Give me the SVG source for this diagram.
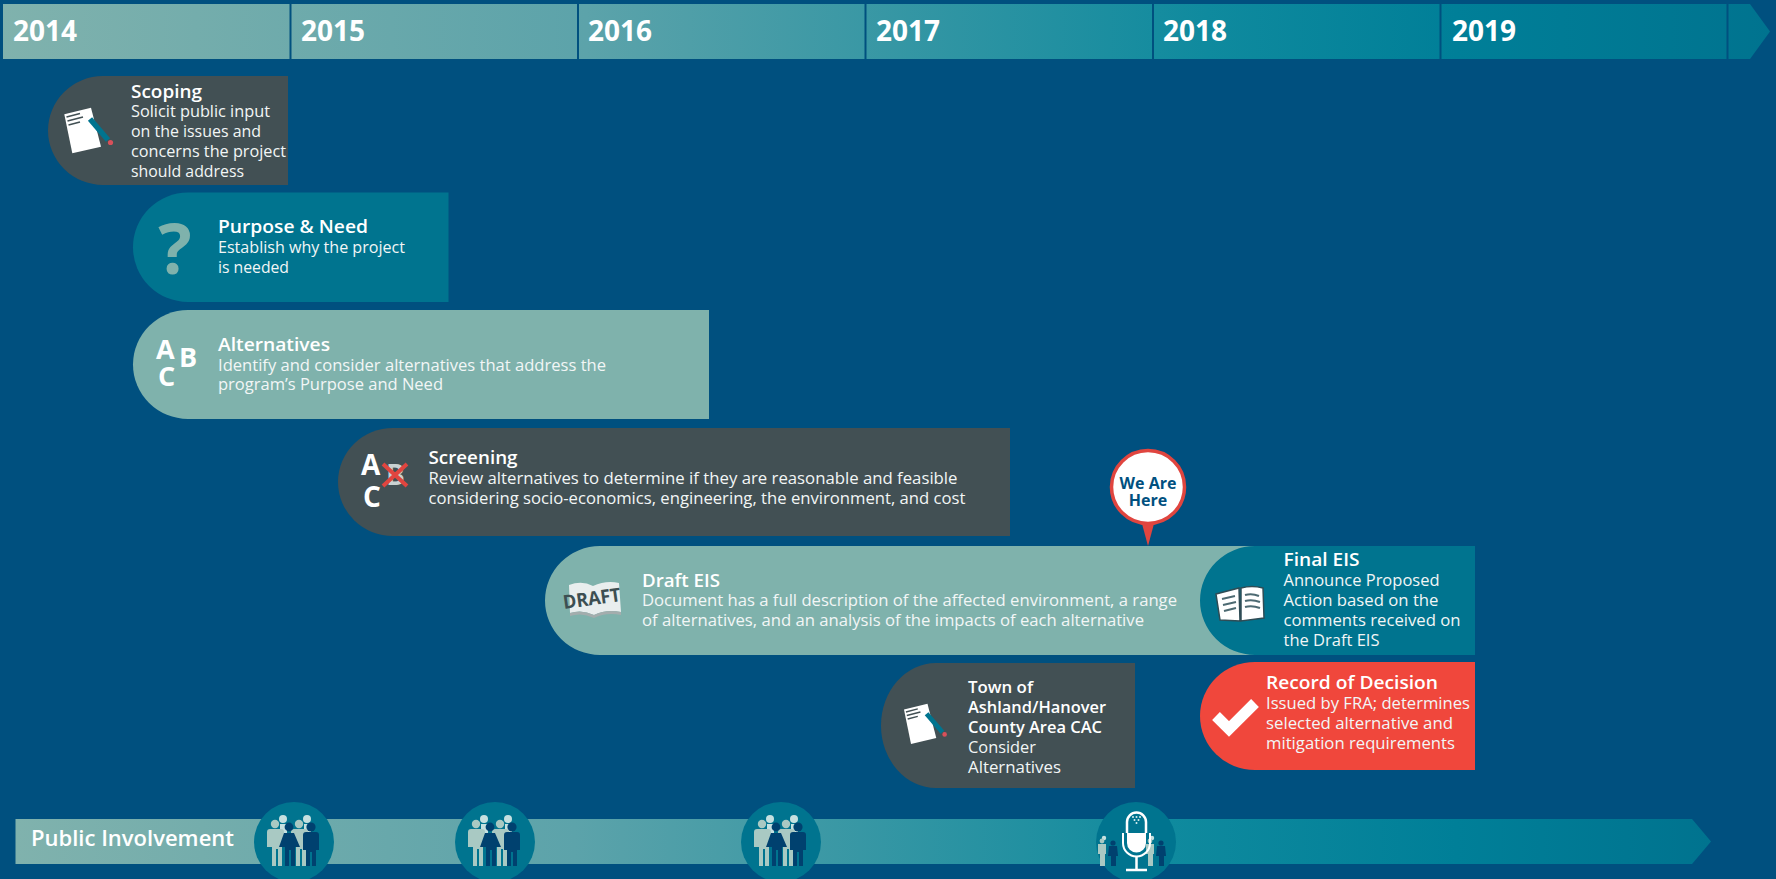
<svg xmlns="http://www.w3.org/2000/svg" width="1776" height="879" viewBox="0 0 1776 879">
<style>
text{font-family:"Open Sans","Noto Sans","Liberation Sans",sans-serif;fill:#fff}
.yr{font-size:28px;font-weight:700}
.t{font-size:18.500px;font-weight:600}
.b{font-size:16px;font-weight:400;fill:#f2f6f6}
.ic{font-weight:700;font-size:27px}
.dark{fill:#425054}.teal{fill:#00748f}.light{fill:#7fb2ac}.red{fill:#f0473c}
</style>
<defs>
<linearGradient id="g1" gradientUnits="userSpaceOnUse" x1="0" y1="0" x2="1776" y2="0">
<stop offset="0" stop-color="#80b2ad"/><stop offset="0.33" stop-color="#5ca3aa"/><stop offset="0.68" stop-color="#0f8a9e"/><stop offset="0.82" stop-color="#007f98"/><stop offset="1" stop-color="#00738f"/>
</linearGradient>
<linearGradient id="g2" gradientUnits="userSpaceOnUse" x1="15" y1="0" x2="1711" y2="0">
<stop offset="0" stop-color="#80b2ad"/><stop offset="0.33" stop-color="#5ca3aa"/><stop offset="0.68" stop-color="#0f8a9e"/><stop offset="0.85" stop-color="#007f98"/><stop offset="1" stop-color="#00738f"/>
</linearGradient>
<g id="doc">
<path d="M64.300 114.300L91 107.700L101 146.700L72.300 153.300Z" fill="#fff"/>
<path d="M66.500 117L80 113.500M67.500 121L83 117M68.500 125L80 122" stroke="#425054" stroke-width="1.600" fill="none"/>
<path d="M90 119L108 140" stroke="#00748f" stroke-width="5.500"/>
<circle cx="110.500" cy="142.500" r="2.600" fill="#d8505a"/>
</g>
<g id="people">
<circle cx="-11" cy="-23" r="4" fill="#c5e0e0"/><circle cx="13" cy="-23" r="4" fill="#c5e0e0"/>
<path d="M-14 -18h7v10h-7zM10 -18h7v10h-7z" fill="#c5e0e0"/>
<circle cx="-19" cy="-18" r="4.200" fill="#a9c9c3"/><circle cx="5" cy="-18" r="4.200" fill="#a9c9c3"/>
<path d="M-27 -10q0 -3 3 -3h11q3 0 3 3v15h-2v19h-4v-17h-2v17h-4v-19h-5z" fill="#a9c9c3"/>
<path d="M-3 -10q0 -3 3 -3h11q3 0 3 3v15h-2v19h-4v-17h-2v17h-4v-19h-5z" fill="#a9c9c3"/>
<circle cx="-5" cy="-15" r="4.400" fill="#00416f"/>
<path d="M-10 -9h10l6 14h-5v19h-4v-16h-2v16h-4v-19h-6z" fill="#00416f"/>
<circle cx="17" cy="-15" r="4.600" fill="#00416f"/>
<path d="M9 -7q0 -3 3 -3h10q3 0 3 3v15h-3v16h-4v-14h-2v14h-4v-16h-3z" fill="#00416f"/>
</g>
<g id="tiny">
<circle cx="-8" cy="-4" r="2.200" fill="#c5e0e0"/><circle cx="-10" cy="-1" r="2.400" fill="#a9c9c3"/>
<path d="M-14 2h8v10h-1v12h-5v-12h-2z" fill="#a9c9c3"/>
<circle cx="1" cy="1" r="2.600" fill="#00416f"/>
<path d="M-3 4h8l1 10h-2v10h-5v-10h-3z" fill="#00416f"/>
</g>
</defs>
<rect width="1776" height="879" fill="#00507f"/>

<g id="timeline">
<path d="M3 4H1750L1770 31.500L1750 59H3Z" fill="url(#g1)"/>
<path d="M290.500 4V59M578 4V59M865.500 4V59M1153 4V59M1440.500 4V59M1727.500 4V59" stroke="#00507f" stroke-width="2" fill="none"/>
<text class="yr" x="13" y="41">2014</text>
<text class="yr" x="301" y="41">2015</text>
<text class="yr" x="588" y="41">2016</text>
<text class="yr" x="876" y="41">2017</text>
<text class="yr" x="1163" y="41">2018</text>
<text class="yr" x="1452" y="41">2019</text>
</g>

<g id="scoping">
<path class="dark" d="M288 76V185H103A55 54.500 0 0 1 103 76Z"/>
<use href="#doc"/>
<text class="t" x="131" y="98" textLength="71" lengthAdjust="spacingAndGlyphs">Scoping</text>
<text class="b" x="131" y="117" textLength="139" lengthAdjust="spacingAndGlyphs">Solicit public input</text>
<text class="b" x="131" y="137" textLength="130" lengthAdjust="spacingAndGlyphs">on the issues and</text>
<text class="b" x="131" y="157" textLength="155" lengthAdjust="spacingAndGlyphs">concerns the project</text>
<text class="b" x="131" y="177" textLength="113" lengthAdjust="spacingAndGlyphs">should address</text>
</g>

<g id="purpose-need">
<path class="teal" d="M448.500 192.500V302H188A55 54.750 0 0 1 188 192.500Z"/>
<text x="175" y="274" text-anchor="middle" style="font-size:70px;font-weight:700;fill:#7fb2ac">?</text>
<text class="t" x="218" y="233" textLength="150" lengthAdjust="spacingAndGlyphs">Purpose &amp; Need</text>
<text class="b" x="218" y="253" textLength="187" lengthAdjust="spacingAndGlyphs">Establish why the project</text>
<text class="b" x="218" y="273" textLength="71" lengthAdjust="spacingAndGlyphs">is needed</text>
</g>

<g id="alternatives">
<path class="light" d="M709 310V419H188A55 54.500 0 0 1 188 310Z"/>
<text class="ic" x="156" y="359">A</text>
<text class="ic" x="179" y="367">B</text>
<text class="ic" x="158" y="386">C</text>
<text class="t" x="218" y="351" textLength="112" lengthAdjust="spacingAndGlyphs">Alternatives</text>
<text class="b" x="218" y="371" textLength="388" lengthAdjust="spacingAndGlyphs">Identify and consider alternatives that address the</text>
<text class="b" x="218" y="390" textLength="225" lengthAdjust="spacingAndGlyphs">program’s Purpose and Need</text>
</g>

<g id="screening">
<path class="dark" d="M1010 428V536H393A55 54 0 0 1 393 428Z"/>
<text class="ic" x="361" y="475" style="font-size:28px">A</text>
<text class="ic" x="386" y="485" style="font-size:28px;fill:#c9d2d2">B</text>
<text class="ic" x="363" y="507" style="font-size:28px">C</text>
<path d="M383 464L407 486M407 464L383 486" stroke="#e0453f" stroke-width="4" fill="none"/>
<text class="t" x="428.500" y="464" textLength="89" lengthAdjust="spacingAndGlyphs">Screening</text>
<text class="b" x="428.500" y="484" textLength="529" lengthAdjust="spacingAndGlyphs">Review alternatives to determine if they are reasonable and feasible</text>
<text class="b" x="428.500" y="504" textLength="537" lengthAdjust="spacingAndGlyphs">considering socio-economics, engineering, the environment, and cost</text>
</g>

<g id="draft-eis">
<path class="light" d="M1260 546V655H600A55 54.500 0 0 1 600 546Z"/>
<path d="M569 585Q582 580 593 586Q606 580 619 583L621 612Q606 609 594 615Q582 609 570 613Z" fill="#e9eeee"/>
<path d="M570 613Q582 609 594 615Q606 609 621 612L621 615Q606 612 594 618Q582 612 570 616Z" fill="#a3adad"/>
<text x="564" y="609" transform="rotate(-8 564 609)" textLength="58" lengthAdjust="spacingAndGlyphs" style="font-size:19px;font-weight:700;fill:#3d4f52">DRAFT</text>
<text class="t" x="642" y="587" textLength="78" lengthAdjust="spacingAndGlyphs">Draft EIS</text>
<text class="b" x="642" y="606" textLength="535" lengthAdjust="spacingAndGlyphs">Document has a full description of the affected environment, a range</text>
<text class="b" x="642" y="626" textLength="502" lengthAdjust="spacingAndGlyphs">of alternatives, and an analysis of the impacts of each alternative</text>
</g>

<g id="final-eis">
<path class="teal" d="M1475 546V655H1255A55 54.500 0 0 1 1255 546Z"/>
<path d="M1216 594L1239 588L1240 621L1220 620ZM1241 588Q1252 585 1263 588L1264 618L1241 621Z" fill="#fff" stroke="#2f4c55" stroke-width="1.500"/>
<path d="M1222 599L1235 596M1223 605L1236 602M1224 611L1236 608M1245 595Q1252 593 1259 596M1245 601Q1252 599 1260 602M1245 607Q1252 605 1260 608" stroke="#4d6a72" stroke-width="2" fill="none"/>
<text class="t" x="1283.500" y="566" textLength="76" lengthAdjust="spacingAndGlyphs">Final EIS</text>
<text class="b" x="1283.500" y="586" textLength="156" lengthAdjust="spacingAndGlyphs">Announce Proposed</text>
<text class="b" x="1283.500" y="606" textLength="155" lengthAdjust="spacingAndGlyphs">Action based on the</text>
<text class="b" x="1283.500" y="626" textLength="177" lengthAdjust="spacingAndGlyphs">comments received on</text>
<text class="b" x="1283.500" y="646" textLength="96" lengthAdjust="spacingAndGlyphs">the Draft EIS</text>
</g>

<g id="record-of-decision">
<path class="red" d="M1475 662V770H1255A55 54 0 0 1 1255 662Z"/>
<path d="M1216 716L1229 729L1255 703" stroke="#fff" stroke-width="11" fill="none"/>
<text class="t" x="1266" y="689" textLength="172" lengthAdjust="spacingAndGlyphs">Record of Decision</text>
<text class="b" x="1266" y="709" textLength="204" lengthAdjust="spacingAndGlyphs">Issued by FRA; determines</text>
<text class="b" x="1266" y="729" textLength="187" lengthAdjust="spacingAndGlyphs">selected alternative and</text>
<text class="b" x="1266" y="749" textLength="189" lengthAdjust="spacingAndGlyphs">mitigation requirements</text>
</g>

<g id="cac">
<path class="dark" d="M1135 663V788H936A55 62.500 0 0 1 936 663Z"/>
<use href="#doc" transform="translate(847.400 609) scale(.88)"/>
<text class="t" x="968" y="693" style="font-size:16px" textLength="65" lengthAdjust="spacingAndGlyphs">Town of</text>
<text class="t" x="968" y="713" style="font-size:16px" textLength="138" lengthAdjust="spacingAndGlyphs">Ashland/Hanover</text>
<text class="t" x="968" y="733" style="font-size:16px" textLength="134" lengthAdjust="spacingAndGlyphs">County Area CAC</text>
<text class="b" x="968" y="753" textLength="68" lengthAdjust="spacingAndGlyphs">Consider</text>
<text class="b" x="968" y="773" textLength="93" lengthAdjust="spacingAndGlyphs">Alternatives</text>
</g>

<g id="we-are-here">
<path d="M1141 520L1148 546L1155 520Z" fill="#e0453f"/>
<circle cx="1148" cy="487" r="36.500" fill="#fff" stroke="#e0453f" stroke-width="3.500"/>
<text x="1148" y="489" text-anchor="middle" style="font-size:16px;font-weight:700;fill:#00507f">We Are</text>
<text x="1148" y="506" text-anchor="middle" style="font-size:16px;font-weight:700;fill:#00507f">Here</text>
</g>

<g id="public-involvement">
<path d="M15.500 819H1692L1711 841.500L1692 864H15.500Z" fill="url(#g2)"/>
<text x="31" y="846" style="font-size:21px;font-weight:600" textLength="203" lengthAdjust="spacingAndGlyphs">Public Involvement</text>
<g fill="#00748f">
<circle cx="294" cy="842" r="40"/><circle cx="495" cy="842" r="40"/><circle cx="781" cy="842" r="40"/><circle cx="1136" cy="842" r="40"/>
</g>
<use href="#people" transform="translate(294 842)"/>
<use href="#people" transform="translate(495 842)"/>
<use href="#people" transform="translate(781 842)"/>
<use href="#tiny" transform="translate(1112 842)"/>
<use href="#tiny" transform="translate(1160 842)"/>
<path d="M1127 833V822a9.500 9.500 0 0 1 19 0V833" fill="#00748f" stroke="#fff" stroke-width="2.500"/>
<path d="M1127 833H1146V843a9.500 9.500 0 0 1 -19 0Z" fill="#fff"/>
<path d="M1123 833V843a13.500 13.500 0 0 0 27 0V833" fill="none" stroke="#fff" stroke-width="2"/>
<path d="M1136.500 856V869M1126 870H1147" stroke="#fff" stroke-width="2.500" fill="none"/>
<g fill="#dceff0"><circle cx="1133" cy="817" r="1"/><circle cx="1136.500" cy="817" r="1"/><circle cx="1140" cy="817" r="1"/><circle cx="1134.500" cy="820" r="1"/><circle cx="1138.500" cy="820" r="1"/><circle cx="1136.500" cy="823" r="1"/></g>
</g>
</svg>
